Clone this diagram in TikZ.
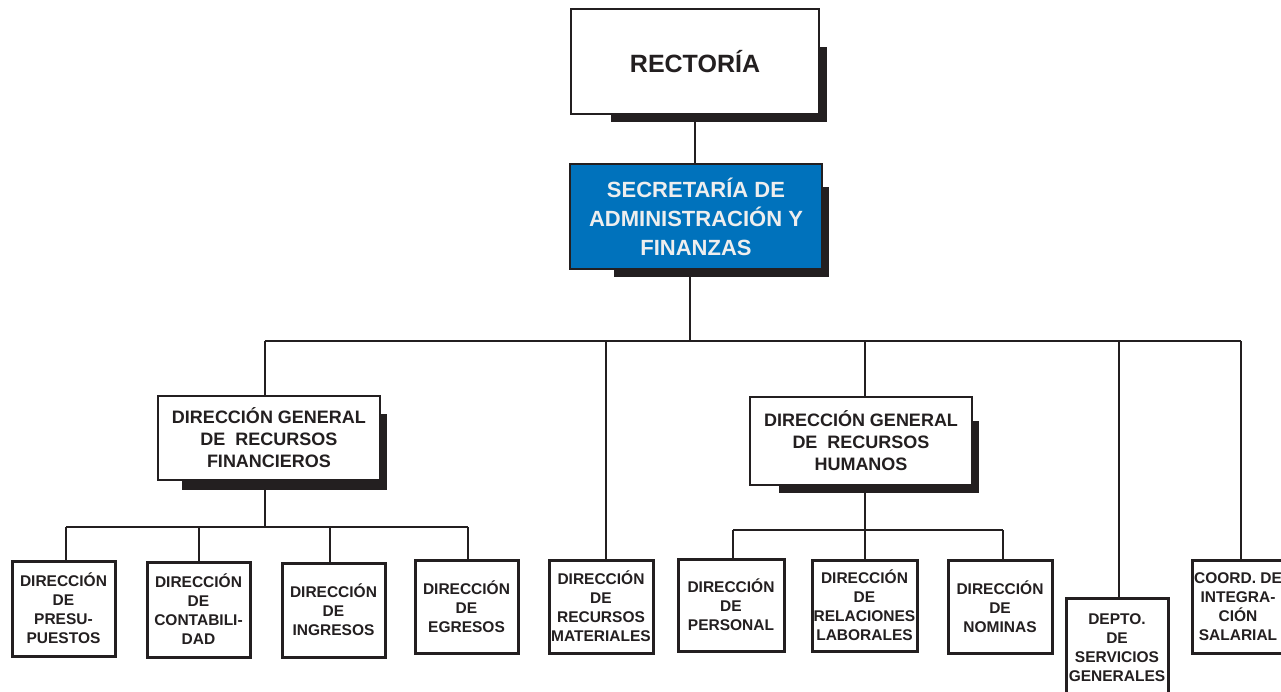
\documentclass[tikz,border=0pt]{standalone}
\usepackage{fontspec}
\setmainfont{Liberation Sans}
\usetikzlibrary{backgrounds}
\definecolor{ink}{HTML}{231F20}
\definecolor{secblue}{HTML}{0072BC}
\definecolor{sectext}{HTML}{EEEEEE}
\tikzset{
  box/.style={draw=ink, line width=2.5pt, fill=white, inner sep=0pt, align=center, text=ink},
  bigbox/.style={box, font=\fontsize{18}{22}\selectfont\bfseries},
  smallbox/.style={box, line width=3pt, font=\fontsize{15.5}{19}\selectfont\bfseries},
  conn/.style={draw=ink, line width=2.7pt},
  shadowfill/.style={fill=ink}
}
\begin{document}
\begin{tikzpicture}[x=1pt,y=-1pt]
\useasboundingbox (0,0) rectangle (1281,692);
\clip (0,0) rectangle (1281,692);
% top level
\node[box, minimum width=248pt, minimum height=105pt, font=\fontsize{25}{30}\selectfont\bfseries] (rect) at (695,61.5) {RECTORÍA};
\node[box, fill=secblue, text=sectext, minimum width=252pt, minimum height=105pt, font=\fontsize{22}{29}\selectfont\bfseries] (sec) at (696,216.5) {SECRETARÍA DE\\ADMINISTRACIÓN Y\\FINANZAS};
\node[bigbox, minimum width=222pt, minimum height=84pt] (dgrf) at (269,438) {DIRECCIÓN GENERAL\\DE\ \ RECURSOS\\FINANCIEROS};
\node[bigbox, minimum width=222pt, minimum height=88pt] (dgrh) at (861,441) {DIRECCIÓN GENERAL\\DE\ \ RECURSOS\\HUMANOS};
% bottom level
\node[smallbox, minimum width=103pt, minimum height=95pt] (pres) at (63.5,608.5) {DIRECCIÓN\\DE\\PRESU-\\PUESTOS};
\node[smallbox, minimum width=103pt, minimum height=95pt] (cont) at (198.5,609.5) {DIRECCIÓN\\DE\\CONTABILI-\\DAD};
\node[smallbox, minimum width=103pt, minimum height=94pt] (ing) at (333.5,610) {DIRECCIÓN\\DE\\INGRESOS};
\node[smallbox, minimum width=103pt, minimum height=93pt] (egr) at (466.5,606.5) {DIRECCIÓN\\DE\\EGRESOS};
\node[smallbox, minimum width=104pt, minimum height=93pt] (mat) at (601,606.5) {DIRECCIÓN\\DE\\RECURSOS\\MATERIALES};
\node[smallbox, minimum width=106pt, minimum height=92pt] (pers) at (731,605) {DIRECCIÓN\\DE\\PERSONAL};
\node[smallbox, minimum width=105pt, minimum height=91pt] (rel) at (864.5,605.5) {DIRECCIÓN\\DE\\RELACIONES\\LABORALES};
\node[smallbox, minimum width=104pt, minimum height=93pt] (nom) at (1000,606.5) {DIRECCIÓN\\DE\\NOMINAS};
\node[smallbox, minimum width=102pt, minimum height=100pt] (depto) at (1117,648) {DEPTO.\\DE\\SERVICIOS\\GENERALES};
\node[smallbox, minimum width=92pt, minimum height=93pt] (coord) at (1238,606.5) {COORD. DE\\INTEGRA-\\CIÓN\\SALARIAL};
% shadows
\begin{pgfonlayer}{background}
\fill[shadowfill] ([shift={(41,39)}]rect.north west) rectangle ([shift={(7,7)}]rect.south east);
\fill[shadowfill] ([shift={(45,24)}]sec.north west) rectangle ([shift={(6,7)}]sec.south east);
\fill[shadowfill] ([shift={(25,19)}]dgrf.north west) rectangle ([shift={(6,9)}]dgrf.south east);
\fill[shadowfill] ([shift={(30,25)}]dgrh.north west) rectangle ([shift={(6,7)}]dgrh.south east);
\end{pgfonlayer}
% bus coordinates
\coordinate (b0) at (690,341);
\coordinate (bL) at (265,341);
\coordinate (bM) at (606,341);
\coordinate (bH) at (865,341);
\coordinate (bD) at (1119,341);
\coordinate (bR) at (1241,341);
\coordinate (f0) at (265,527);
\coordinate (fL) at (66,527);
\coordinate (f2) at (199,527);
\coordinate (f3) at (330,527);
\coordinate (fR) at (468,527);
\coordinate (h0) at (865,530);
\coordinate (hL) at (733,530);
\coordinate (hR) at (1003,530);
% connectors
\draw[conn] (rect.south) -- (rect.south |- sec.north);
\draw[conn] (sec.south -| b0) -- (b0);
\draw[conn] (bL) -- (bR);
\draw[conn] (bL) -- (bL |- dgrf.north);
\draw[conn] (bM) -- (bM |- mat.north);
\draw[conn] (bH) -- (bH |- dgrh.north);
\draw[conn] (bD) -- (bD |- depto.north);
\draw[conn] (bR) -- (bR |- coord.north);
\draw[conn] (dgrf.south -| f0) -- (f0);
\draw[conn] (fL) -- (fR);
\draw[conn] (fL) -- (fL |- pres.north);
\draw[conn] (f2) -- (f2 |- cont.north);
\draw[conn] (f3) -- (f3 |- ing.north);
\draw[conn] (fR) -- (fR |- egr.north);
\draw[conn] (dgrh.south -| h0) -- (h0 |- rel.north);
\draw[conn] (hL) -- (hR);
\draw[conn] (hL) -- (hL |- pers.north);
\draw[conn] (hR) -- (hR |- nom.north);
\end{tikzpicture}
\end{document}
